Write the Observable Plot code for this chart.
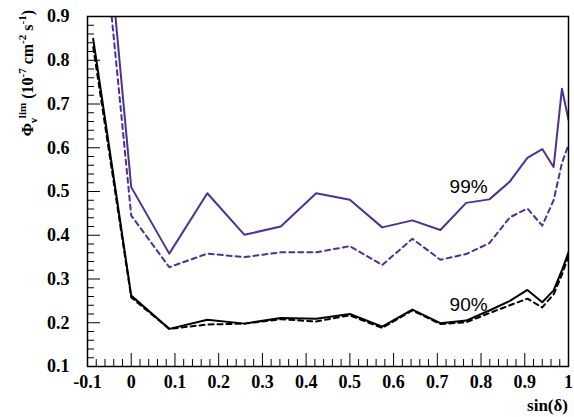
<!DOCTYPE html>
<html><head><meta charset="utf-8">
<script src="https://cdn.jsdelivr.net/npm/d3@7"></script>
<script src="https://cdn.jsdelivr.net/npm/@observablehq/plot@0.6"></script>
<style>body{margin:0;background:#fff;} #chart svg{display:block;}</style>
</head><body><div id="chart"></div>
<script>
// sin(declination) bins
const sinDelta = [-0.087,0,0.087,0.174,0.259,0.342,0.423,0.5,0.574,0.643,0.707,0.766,0.819,0.866,0.906,0.940,0.966,0.985,1.0];
// 99% CL: limit (solid) and sensitivity (dashed)
const lim99  = [1.45,0.51,0.358,0.496,0.401,0.42,0.496,0.481,0.418,0.434,0.412,0.474,0.482,0.523,0.577,0.597,0.556,0.735,0.664];
const sens99 = [1.33,0.445,0.327,0.358,0.35,0.361,0.361,0.375,0.332,0.392,0.344,0.357,0.382,0.441,0.461,0.422,0.48,0.565,0.607];
// 90% CL: limit (solid) and sensitivity (dashed)
const lim90  = [0.849,0.262,0.186,0.207,0.198,0.211,0.209,0.22,0.191,0.23,0.199,0.205,0.228,0.25,0.275,0.247,0.274,0.32,0.361];
const sens90 = [0.83,0.258,0.186,0.196,0.198,0.208,0.203,0.217,0.188,0.228,0.197,0.201,0.222,0.24,0.255,0.235,0.265,0.31,0.352];

const xTicks = [-0.1,0,0.1,0.2,0.3,0.4,0.5,0.6,0.7,0.8,0.9,1];
const xTickLabels = ["-0.1","0","0.1","0.2","0.3","0.4","0.5","0.6","0.7","0.8","0.9","1"];
const yTicks = [0.1,0.2,0.3,0.4,0.5,0.6,0.7,0.8,0.9];
const yTickLabels = ["0.1","0.2","0.3","0.4","0.5","0.6","0.7","0.8","0.9"];

const labelText = ["99%","90%"];
const labelX = [0.728,0.728];
const labelY = [0.511,0.241];

const purple = "#4c3294";
const W = 574, H = 417, mL = 87, mR = 6, mT = 16, mB = 51;
const plotW = W - mL - mR, plotH = H - mT - mB;

const toRows = (ys) => sinDelta.map((x, i) => ({x, y: ys[i]}));
const xMinor = d3.range(-100, 1001, 20).map(v => v / 1000).filter(v => !xTicks.some(t => Math.abs(t - v) < 1e-9));
const yMinor = d3.range(100, 901, 20).map(v => v / 1000).filter(v => !yTicks.some(t => Math.abs(t - v) < 1e-9));

const serif = "'Liberation Serif', 'Times New Roman', serif";

const plot = Plot.plot({
  width: W, height: H,
  marginLeft: mL, marginRight: mR, marginTop: mT, marginBottom: mB,
  x: {domain: [-0.1, 1]},
  y: {domain: [0.1, 0.9]},
  style: {background: "white", fontFamily: serif, color: "black"},
  marks: [
    Plot.line(toRows(sens99), {x: "x", y: "y", stroke: purple, strokeWidth: 2, strokeDasharray: "5,4", clip: true}),
    Plot.line(toRows(lim99), {x: "x", y: "y", stroke: purple, strokeWidth: 2, clip: true}),
    Plot.line(toRows(sens90), {x: "x", y: "y", stroke: "black", strokeWidth: 2, strokeDasharray: "5,4", clip: true}),
    Plot.line(toRows(lim90), {x: "x", y: "y", stroke: "black", strokeWidth: 2, clip: true}),
    Plot.tickY(yMinor, {y: d => d, insetRight: plotW - 7, stroke: "black", strokeWidth: 1}),
    Plot.tickY(yTicks, {y: d => d, insetRight: plotW - 13, stroke: "black", strokeWidth: 1}),
    Plot.tickX(xMinor, {x: d => d, insetTop: plotH - 7, stroke: "black", strokeWidth: 1}),
    Plot.tickX(xTicks, {x: d => d, insetTop: plotH - 13, stroke: "black", strokeWidth: 1}),
    Plot.axisY({ticks: yTicks, tickSize: 0, tickPadding: 18, tickFormat: (d) => yTickLabels[yTicks.indexOf(d)], fontSize: 18, fontWeight: "bold", fontFamily: serif, label: null}),
    Plot.axisX({ticks: xTicks, tickSize: 0, tickPadding: 9, tickFormat: (d) => xTickLabels[xTicks.findIndex(t => Math.abs(t - d) < 1e-9)], fontSize: 18, fontWeight: "bold", fontFamily: serif, label: null}),
    Plot.text(labelText, {x: labelX, y: labelY, text: d => d, textAnchor: "start", fontSize: 19, fontFamily: "'Liberation Sans', Arial, sans-serif", fill: "black"}),
    Plot.frame({stroke: "black", strokeWidth: 1.5})
  ]
});

const svg = d3.select(plot);
// y-axis title
const yt = svg.append("text")
  .attr("transform", "translate(33,10) rotate(-90)")
  .attr("text-anchor", "end")
  .attr("font-family", serif)
  .attr("font-weight", "bold")
  .attr("font-size", 16)
  .attr("fill", "black");
const parts = [
  ["Φ", 16, 0], ["ν", 11, 4], ["lim", 11, -11], [" (10", 16, 7], ["-7", 11, -7],
  [" cm", 16, 7], ["-2", 11, -7], [" s", 16, 7], ["-1", 11, -7], [")", 16, 7]
];
parts.forEach(([s, fs, dy]) => yt.append("tspan").attr("font-size", fs).attr("dy", dy).text(s));

// x-axis title
svg.append("text")
  .attr("x", W - mR)
  .attr("y", 411)
  .attr("text-anchor", "end")
  .attr("font-family", serif)
  .attr("font-weight", "bold")
  .attr("font-size", 17)
  .attr("fill", "black")
  .text("sin(δ)");

document.getElementById("chart").appendChild(plot);
</script>
</body></html>
